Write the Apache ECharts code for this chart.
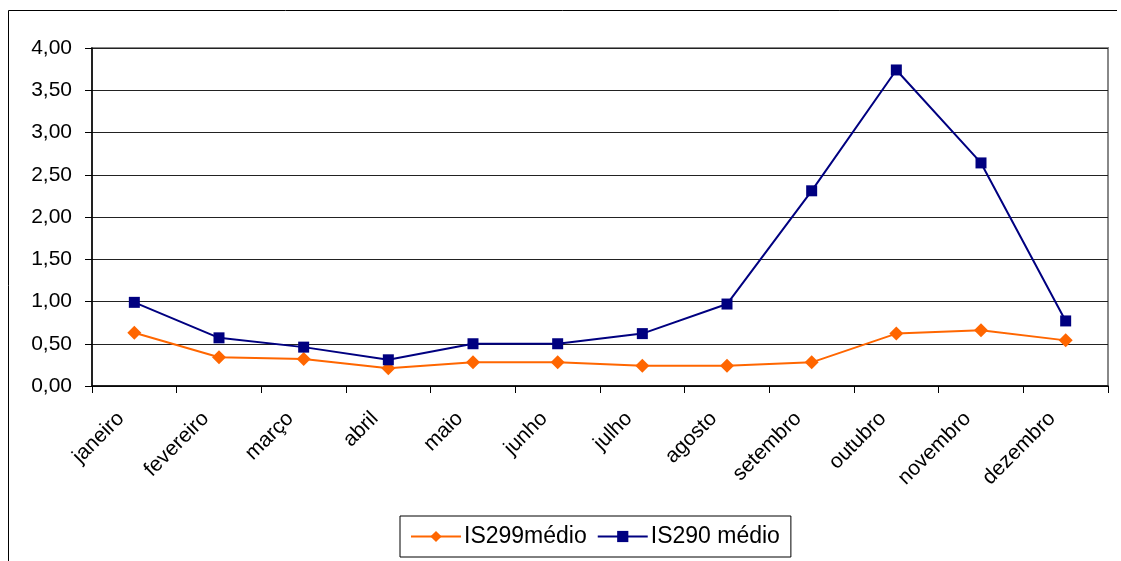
<!DOCTYPE html>
<html>
<head>
<meta charset="utf-8">
<script src="https://cdn.jsdelivr.net/npm/echarts@6/dist/echarts.min.js"></script>
<style>html,body{margin:0;padding:0;background:#fff}#c{width:1121px;height:561px}</style>
</head>
<body>
<div id="c"></div>
<script>
var categories = ['janeiro','fevereiro','março','abril','maio','junho','julho','agosto','setembro','outubro','novembro','dezembro'];
var is299 = [0.63, 0.34, 0.32, 0.21, 0.28, 0.28, 0.24, 0.24, 0.28, 0.62, 0.66, 0.54];
var is290 = [0.99, 0.57, 0.46, 0.31, 0.50, 0.50, 0.62, 0.97, 2.31, 3.74, 2.64, 0.77];
var seriesNames = ['IS299médio', 'IS290 médio'];

var chart = echarts.init(document.getElementById('c'));
chart.setOption({
  animation: false,
  textStyle: { fontFamily: 'Liberation Sans, Arial, sans-serif', color: '#000' },
  graphic: [{
    type: 'polyline',
    shape: { points: [[8.5, 561], [8.5, 10.5], [1117, 10.5]] },
    style: { stroke: '#000', lineWidth: 1, fill: null }
  }],
  grid: {
    left: 92, right: 13, top: 48, bottom: 175,
    show: true, borderColor: '#888', borderWidth: 2, backgroundColor: '#fff'
  },
  legend: {
    left: 400, top: 516,
    padding: [9, 11, 9, 10],
    itemGap: 10,
    itemWidth: 50, itemHeight: 14,
    borderColor: '#000', borderWidth: 1,
    textStyle: { fontSize: 23, color: '#000', padding: [0, 0, 0, -2] },
    data: seriesNames
  },
  xAxis: {
    type: 'category',
    data: categories,
    boundaryGap: true,
    axisLine: { lineStyle: { color: '#000', width: 1.5 } },
    axisTick: { show: true, length: 7, alignWithLabel: false, lineStyle: { color: '#000' } },
    axisLabel: { rotate: 45, fontSize: 21, color: '#000', margin: 16, padding: [0, 19, 0, 0], interval: 0 },
    splitLine: { show: false }
  },
  yAxis: {
    type: 'value',
    min: 0, max: 4, interval: 0.5,
    axisLine: { show: true, lineStyle: { color: '#000', width: 1.5 } },
    axisTick: { show: true, length: 7, lineStyle: { color: '#000' } },
    axisLabel: {
      fontSize: 21, color: '#000', margin: 20,
      formatter: function (v) { return v.toFixed(2).replace('.', ','); }
    },
    splitLine: { show: true, lineStyle: { color: '#222', width: 1 } }
  },
  series: [{
    name: seriesNames[0],
    type: 'line',
    data: is299,
    symbol: 'diamond',
    symbolSize: 14,
    lineStyle: { color: '#FF6600', width: 2 },
    itemStyle: { color: '#FF6600' }
  }, {
    name: seriesNames[1],
    type: 'line',
    data: is290,
    symbol: 'rect',
    symbolSize: 11,
    lineStyle: { color: '#000080', width: 2 },
    itemStyle: { color: '#000080' }
  }]
});
</script>
</body>
</html>
